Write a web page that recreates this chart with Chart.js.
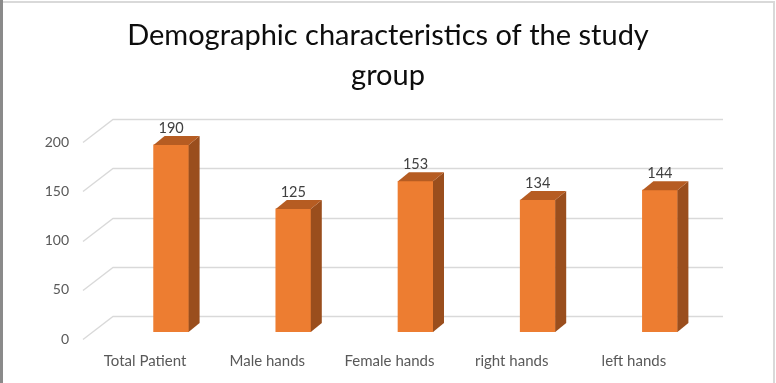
<!DOCTYPE html>
<html>
<head>
<meta charset="utf-8">
<script src="https://cdn.jsdelivr.net/npm/chart.js@4.4.1/dist/chart.umd.min.js"></script>
<style>
  html, body { margin: 0; padding: 0; background: #ffffff; }
  #wrap { width: 776px; height: 383px; position: relative; }
</style>
</head>
<body>
<div id="wrap"><canvas id="c" width="776" height="383"></canvas></div>
<script>
const categories = ['Total Patient', 'Male hands', 'Female hands', 'right hands', 'left hands'];
const values = [190, 125, 153, 134, 144];
const yTicks = [0, 50, 100, 150, 200];
const titleLines = ['Demographic characteristics of the study', 'group'];

const FRONT = '#ED7D31', SIDE = '#9A4E1D', TOP = '#B65C22';
const DEPTH_X = 11, DEPTH_Y = 9;

const frame = {
  id: 'frame',
  beforeDraw(chart) {
    const ctx = chart.ctx;
    ctx.save();
    ctx.fillStyle = '#ffffff';
    ctx.fillRect(0, 0, chart.width, chart.height);
    ctx.fillStyle = '#d9d9d9';
    ctx.fillRect(3, 1, 772, 2);
    ctx.fillRect(773, 1, 2, 382);
    ctx.fillStyle = '#8a8a8a';
    ctx.fillRect(0, 0, 3, 383);
    ctx.restore();
  }
};

const grid3d = {
  id: 'grid3d',
  beforeDatasetsDraw(chart) {
    const ctx = chart.ctx, y = chart.scales.y, a = chart.chartArea;
    ctx.save();
    ctx.strokeStyle = '#d9d9d9';
    ctx.lineWidth = 1.3;
    yTicks.forEach(v => {
      const py = Math.round(y.getPixelForValue(v)) + 0.5;
      ctx.beginPath();
      ctx.moveTo(a.left - 27, py + 7);
      ctx.lineTo(a.left + 3, py - 16);
      ctx.lineTo(a.right + 2, py - 16);
      ctx.stroke();
    });
    ctx.restore();
  }
};

const bars3d = {
  id: 'bars3d',
  afterDatasetsDraw(chart) {
    const ctx = chart.ctx;
    const meta = chart.getDatasetMeta(0);
    ctx.save();
    meta.data.forEach((bar, i) => {
      const p = bar.getProps(['x', 'y', 'base', 'width'], true);
      const l = p.x - p.width / 2, r = p.x + p.width / 2;
      ctx.fillStyle = SIDE;
      ctx.beginPath();
      ctx.moveTo(r, p.y);
      ctx.lineTo(r + DEPTH_X, p.y - DEPTH_Y);
      ctx.lineTo(r + DEPTH_X, p.base - DEPTH_Y);
      ctx.lineTo(r, p.base);
      ctx.closePath();
      ctx.fill();
      ctx.fillStyle = TOP;
      ctx.beginPath();
      ctx.moveTo(l, p.y);
      ctx.lineTo(l + DEPTH_X, p.y - DEPTH_Y);
      ctx.lineTo(r + DEPTH_X, p.y - DEPTH_Y);
      ctx.lineTo(r, p.y);
      ctx.closePath();
      ctx.fill();
      ctx.fillStyle = '#404040';
      ctx.font = '14.5px Lato';
      ctx.textAlign = 'center';
      ctx.textBaseline = 'alphabetic';
      ctx.fillText(String(values[i]), p.x, p.y - 12);
    });
    ctx.restore();
  }
};

function build() {
  new Chart(document.getElementById('c'), {
    type: 'bar',
    data: {
      labels: categories,
      datasets: [{
        data: values,
        backgroundColor: FRONT,
        borderWidth: 0,
        barThickness: 35
      }]
    },
    options: {
      responsive: false,
      animation: false,
      layout: { padding: { left: 0, right: 0, top: 0, bottom: 0 } },
      plugins: {
        legend: { display: false },
        tooltip: { enabled: false },
        title: {
          display: true,
          text: titleLines,
          color: '#0d0d0d',
          font: { family: 'Lato', size: 29, weight: 'normal', lineHeight: 1.38 },
          padding: { top: 16, bottom: 39 }
        }
      },
      scales: {
        x: {
          grid: { display: false, drawTicks: false },
          border: { display: false },
          ticks: {
            color: '#595959',
            font: { family: 'Lato', size: 15 },
            padding: 20,
            labelOffset: -26,
            maxRotation: 0
          },
          afterFit(s) { s.height = 51; }
        },
        y: {
          min: 0, max: 200,
          grid: { display: false, drawTicks: false },
          border: { display: false },
          ticks: {
            stepSize: 50,
            color: '#595959',
            font: { family: 'Lato', size: 14 },
            padding: 41,
            labelOffset: 7
          },
          afterFit(s) { s.width = 110; }
        },
        yRight: {
          position: 'right',
          display: true,
          grid: { display: false, drawTicks: false },
          border: { display: false },
          ticks: { display: false },
          afterFit(s) { s.width = 55; }
        }
      }
    },
    plugins: [frame, grid3d, bars3d]
  });
}

if (document.fonts && document.fonts.load) {
  Promise.all([document.fonts.load('29px Lato'), document.fonts.load('14px Lato')]).then(build, build);
} else { build(); }
</script>
</body>
</html>
